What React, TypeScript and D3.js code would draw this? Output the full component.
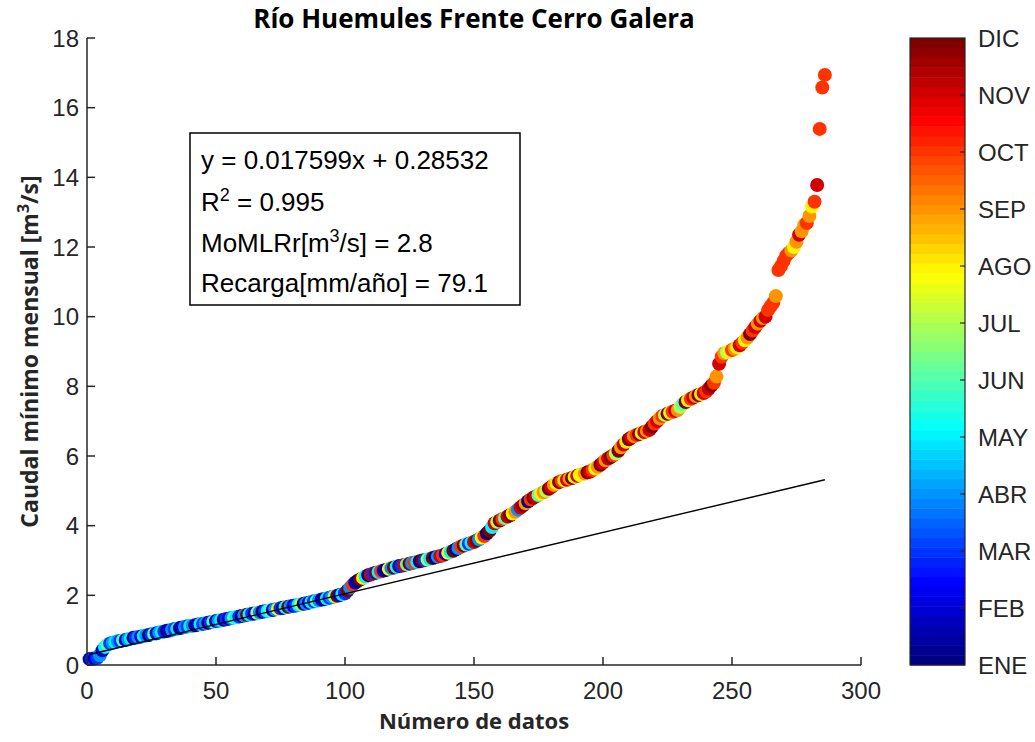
import React from 'react';
import * as d3 from 'd3';

const meses = ['ENE', 'FEB', 'MAR', 'ABR', 'MAY', 'JUN', 'JUL', 'AGO', 'SEP', 'OCT', 'NOV', 'DIC'];
const xTicks = [0, 50, 100, 150, 200, 250, 300];
const yTicks = [0, 2, 4, 6, 8, 10, 12, 14, 16, 18];

// Caudal mínimo mensual ordenado (m3/s), puntos 1..286
const caudal = [
  0.17, 0.18, 0.19, 0.21, 0.28, 0.42, 0.52, 0.58, 0.62, 0.64,
  0.66, 0.68, 0.69, 0.71, 0.72, 0.74, 0.76, 0.78, 0.79, 0.8,
  0.82, 0.83, 0.85, 0.86, 0.88, 0.89, 0.91, 0.93, 0.95, 0.96,
  0.98, 0.99, 1.01, 1.03, 1.04, 1.06, 1.08, 1.09, 1.11, 1.12,
  1.13, 1.14, 1.16, 1.17, 1.18, 1.2, 1.21, 1.23, 1.24, 1.26,
  1.27, 1.29, 1.3, 1.32, 1.33, 1.35, 1.36, 1.38, 1.39, 1.41,
  1.42, 1.44, 1.45, 1.47, 1.48, 1.5, 1.51, 1.53, 1.54, 1.55,
  1.57, 1.58, 1.6, 1.61, 1.63, 1.64, 1.66, 1.67, 1.69, 1.7,
  1.71, 1.73, 1.74, 1.76, 1.77, 1.79, 1.81, 1.83, 1.84, 1.86,
  1.88, 1.89, 1.91, 1.93, 1.95, 1.97, 1.99, 2.01, 2.03, 2.06,
  2.14, 2.22, 2.3, 2.37, 2.42, 2.46, 2.5, 2.54, 2.58, 2.6,
  2.63, 2.65, 2.67, 2.69, 2.71, 2.73, 2.76, 2.78, 2.8, 2.82,
  2.84, 2.85, 2.87, 2.89, 2.91, 2.93, 2.94, 2.96, 2.98, 3.0,
  3.01, 3.03, 3.05, 3.07, 3.09, 3.11, 3.13, 3.15, 3.19, 3.22,
  3.25, 3.28, 3.32, 3.36, 3.4, 3.43, 3.46, 3.48, 3.51, 3.53,
  3.57, 3.61, 3.66, 3.7, 3.78, 3.85, 3.96, 4.07, 4.11, 4.15,
  4.19, 4.22, 4.26, 4.3, 4.35, 4.4, 4.46, 4.52, 4.58, 4.64,
  4.7, 4.75, 4.8, 4.84, 4.88, 4.92, 4.96, 5.0, 5.06, 5.11,
  5.17, 5.22, 5.25, 5.28, 5.3, 5.32, 5.35, 5.37, 5.4, 5.43,
  5.45, 5.48, 5.5, 5.53, 5.55, 5.6, 5.64, 5.69, 5.75, 5.81,
  5.88, 5.93, 5.97, 6.02, 6.07, 6.15, 6.25, 6.33, 6.41, 6.48,
  6.53, 6.57, 6.6, 6.63, 6.66, 6.69, 6.72, 6.75, 6.84, 6.93,
  7.0, 7.08, 7.15, 7.18, 7.21, 7.24, 7.27, 7.3, 7.32, 7.41,
  7.5, 7.55, 7.6, 7.64, 7.68, 7.72, 7.75, 7.78, 7.81, 7.85,
  7.93, 8.02, 8.1, 8.28, 8.65, 8.85, 8.95, 8.98, 9.01, 9.04,
  9.08, 9.12, 9.18, 9.25, 9.32, 9.4, 9.5, 9.6, 9.7, 9.8,
  9.88, 9.96, 10.0, 10.19, 10.3, 10.4, 10.59, 11.34, 11.45, 11.6,
  11.75, 11.83, 11.9, 12.0, 12.15, 12.35, 12.45, 12.63, 12.69, 12.89,
  13.16, 13.3, 13.78, 15.39, 16.58, 16.94,
];

// Mes de cada dato (0 = ENE ... 11 = DIC)
const mesDato = [
  1, 2, 1, 2, 3, 1, 4, 5, 2, 3,
  4, 3, 2, 5, 1, 3, 4, 0, 2, 3,
  1, 4, 3, 0, 2, 5, 1, 3, 4, 2,
  0, 1, 3, 2, 4, 0, 1, 3, 2, 4,
  3, 0, 1, 4, 2, 3, 0, 2, 5, 1,
  3, 4, 0, 2, 1, 3, 5, 4, 2, 0,
  3, 11, 4, 2, 1, 6, 3, 0, 2, 4,
  5, 1, 3, 7, 2, 0, 4, 11, 3, 1,
  2, 4, 6, 0, 3, 1, 4, 2, 5, 3,
  1, 0, 4, 2, 3, 6, 11, 1, 4, 2,
  11, 3, 9, 1, 0, 11, 7, 4, 0, 10,
  2, 11, 4, 9, 1, 0, 7, 3, 11, 4,
  0, 2, 10, 5, 11, 3, 9, 4, 0, 11,
  2, 6, 4, 11, 0, 3, 10, 9, 1, 7,
  4, 11, 0, 3, 9, 11, 5, 2, 4, 10,
  11, 3, 7, 9, 0, 11, 4, 10, 6, 11,
  9, 5, 10, 11, 7, 8, 3, 10, 11, 8,
  0, 9, 11, 10, 5, 7, 8, 6, 11, 10,
  8, 7, 11, 9, 7, 10, 8, 11, 7, 10,
  7, 7, 8, 11, 10, 9, 7, 8, 11, 10,
  8, 10, 11, 9, 6, 11, 8, 10, 7, 11,
  10, 8, 9, 11, 7, 10, 8, 10, 11, 9,
  10, 8, 9, 6, 11, 7, 9, 10, 8, 6,
  5, 11, 7, 9, 10, 8, 11, 7, 10, 9,
  10, 11, 9, 8, 10, 9, 8, 6, 7, 9,
  8, 7, 10, 9, 7, 8, 11, 9, 10, 8,
  10, 8, 10, 9, 9, 9, 8, 9, 9, 9,
  9, 9, 8, 7, 8, 10, 8, 8, 9, 8,
  7, 9, 10, 9, 9, 9,
];

const fitSlope = 0.017599;
const fitIntercept = 0.28532;
const fitRange = [1, 286];

const W = 1035;
const H = 742;
const M = { left: 87, right: 861, top: 38, bottom: 665 };
const CB = { left: 910, right: 965 };
const AX = '#262626';
const TICK_FONT = '"Liberation Sans", Arial, sans-serif';
const LABEL_FONT = '"Open Sans", Lato, sans-serif';

function jet(t: number): string {
  const c = (v: number) => Math.max(0, Math.min(1, v));
  return d3.rgb(
    Math.round(255 * c(1.5 - Math.abs(4 * t - 3))),
    Math.round(255 * c(1.5 - Math.abs(4 * t - 2))),
    Math.round(255 * c(1.5 - Math.abs(4 * t - 1)))
  ).formatHex();
}
const NC = 64;
const cmap = d3.range(NC).map((i) => jet(i / (NC - 1)));
const colorOf = (m: number) => cmap[Math.min(NC - 1, Math.floor((m / 11) * NC))];

export default function App() {
  const x = d3.scaleLinear().domain([0, 300]).range([M.left, M.right]);
  const y = d3.scaleLinear().domain([0, 18]).range([M.bottom, M.top]);
  const cy = d3.scaleLinear().domain([0, 11]).range([M.bottom, M.top]);
  const line = d3.line<number>().x((d) => x(d)).y((d) => y(fitSlope * d + fitIntercept));
  const bandH = (M.bottom - M.top) / NC;

  return (
    <svg width={W} height={H} style={{ position: 'absolute', left: 0, top: 0, background: '#fff' }}>
      <rect x={0} y={0} width={W} height={H} fill="#fff" />
      {/* points */}
      {caudal.map((v, i) => (
        <circle key={i} cx={x(i + 1)} cy={y(v)} r={7} fill={colorOf(mesDato[i])} />
      ))}
      {/* fit line */}
      <path d={line(fitRange) || ''} stroke="#000" strokeWidth={1.4} fill="none" />
      {/* axes */}
      <line x1={M.left} x2={M.left} y1={M.top} y2={M.bottom} stroke={AX} strokeWidth={1.5} />
      <line x1={M.left} x2={M.right} y1={M.bottom} y2={M.bottom} stroke={AX} strokeWidth={1.5} />
      {xTicks.map((t) => (
        <g key={'x' + t}>
          <line x1={x(t)} x2={x(t)} y1={M.bottom} y2={M.bottom - 8} stroke={AX} strokeWidth={1.5} />
          <text x={x(t)} y={M.bottom + 34} textAnchor="middle" fontFamily={TICK_FONT} fontSize={24} fill={AX}>{t}</text>
        </g>
      ))}
      {yTicks.map((t) => (
        <g key={'y' + t}>
          <line x1={M.left} x2={M.left + 8} y1={y(t)} y2={y(t)} stroke={AX} strokeWidth={1.5} />
          <text x={M.left - 8} y={y(t) + 8.5} textAnchor="end" fontFamily={TICK_FONT} fontSize={24} fill={AX}>{t}</text>
        </g>
      ))}
      {/* title */}
      <text x={(M.left + M.right) / 2} y={28} textAnchor="middle" fontFamily={LABEL_FONT} fontWeight="bold" fontSize={26} fill="#000">
        Río Huemules Frente Cerro Galera
      </text>
      <text x={(M.left + M.right) / 2} y={729} textAnchor="middle" fontFamily={LABEL_FONT} fontWeight="bold" fontSize={22} fill={AX}>
        Número de datos
      </text>
      <text transform={`translate(38, ${(M.top + M.bottom) / 2}) rotate(-90)`} textAnchor="middle" fontFamily={LABEL_FONT} fontWeight="bold" fontSize={23} fill={AX}>
        Caudal mínimo mensual [m<tspan dy={-9} fontSize={16}>3</tspan><tspan dy={9}>/s]</tspan>
      </text>
      {/* stats box */}
      <rect x={190} y={133} width={330} height={172} fill="#fff" stroke="#000" strokeWidth={1.5} />
      <g fontFamily={TICK_FONT} fontSize={26} fill="#000">
        <text x={201} y={169}>y = 0.017599x + 0.28532</text>
        <text x={201} y={211}>R<tspan dy={-10} fontSize={18}>2</tspan><tspan dy={10}> = 0.995</tspan></text>
        <text x={201} y={252}>MoMLRr[m<tspan dy={-10} fontSize={18}>3</tspan><tspan dy={10}>/s] = 2.8</tspan></text>
        <text x={201} y={292}>Recarga[mm/año] = 79.1</text>
      </g>
      {/* colorbar */}
      {cmap.map((c, i) => (
        <rect key={'c' + i} x={CB.left} y={M.bottom - (i + 1) * bandH} width={CB.right - CB.left} height={bandH + 0.5} fill={c} />
      ))}
      <rect x={CB.left} y={M.top} width={CB.right - CB.left} height={M.bottom - M.top} fill="none" stroke={AX} strokeWidth={1.2} />
      {meses.map((m, i) => (
        <g key={m}>
          {i > 0 && i < 11 && (
            <line x1={CB.right - 5} x2={CB.right} y1={cy(i)} y2={cy(i)} stroke={AX} strokeWidth={1.2} />
          )}
          <text x={CB.right + 13} y={cy(i) + 8.5} fontFamily={TICK_FONT} fontSize={24} fill={AX}>{m}</text>
        </g>
      ))}
    </svg>
  );
}
